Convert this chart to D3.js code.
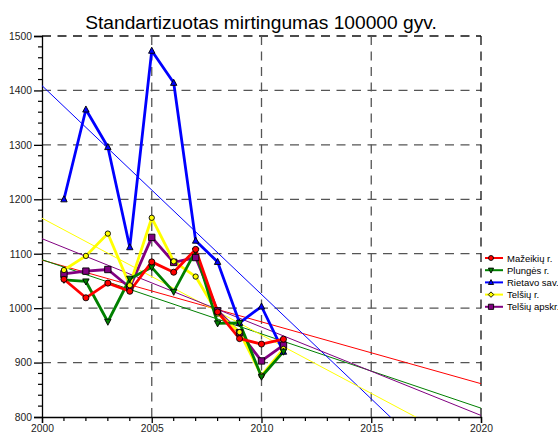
<!DOCTYPE html>
<html><head><meta charset="utf-8">
<script src="https://cdn.jsdelivr.net/npm/d3@7"></script>
<style>body{margin:0;background:#fff}svg{display:block;font-family:"Liberation Sans",Arial,sans-serif}</style>
</head><body><svg id="c" width="558" height="434"></svg>
<script>
const years = [2001,2002,2003,2004,2005,2006,2007,2008,2009,2010,2011];
const seriesNames = ["Mažeikių r.","Plungės r.","Rietavo sav.","Telšių r.","Telšių apskr."];
const mazeikiai = [1053,1019,1046,1031,1085,1066,1108,993,944,934,943];
const plunge    = [1052,1049,975,1054,1075,1030,1105,972,973,874,920];
const rietavas  = [1200,1365,1296,1112,1473,1414,1124,1085,973,1003,920];
const telsiai   = [1070,1096,1137,1042,1166,1086,1058,990,956,876,925];
const apskritis = [1063,1068,1071,1038,1130,1084,1093,995,955,903,932];
const seriesColors = ["#ff0000","#008000","#0000ff","#ffff00","#800080"];
const seriesMarkers = ["circle","triangleDown","triangle","diamond","square"];
const xTicks = [2000,2005,2010,2015,2020];
const yTicks = [800,900,1000,1100,1200,1300,1400,1500];
const title = "Standartizuotas mirtingumas 100000 gyv.";

const values = [mazeikiai, plunge, rietavas, telsiai, apskritis];
const svg = d3.select("#c");
const x = d3.scaleLinear().domain([2000,2020]).range([42,481]);
const y = d3.scaleLinear().domain([800,1500]).range([417,36]);

svg.append("text").attr("x",261).attr("y",29).attr("text-anchor","middle")
  .attr("font-size",19.2).attr("fill","#000").text(title);

// grid
const g = svg.append("g");
yTicks.filter(t=>t>800).forEach(t=>{
  g.append("line").attr("x1",x(2000)).attr("x2",x(2020)).attr("y1",y(t)).attr("y2",y(t))
   .attr("stroke", t===1500?"#111":"#555").attr("stroke-width",1.3).attr("stroke-dasharray","9,6.5");
});
xTicks.filter(t=>t>2000).forEach(t=>{
  g.append("line").attr("x1",x(t)).attr("x2",x(t)).attr("y1",y(800)).attr("y2",y(1500))
   .attr("stroke", t===2020?"#111":"#555").attr("stroke-width",1.3).attr("stroke-dasharray","9,6.5");
});

// axes
const yAxis = d3.axisLeft(y).tickValues(yTicks).tickSize(8).tickPadding(2).tickFormat(d3.format("d"));
const ya = svg.append("g").attr("transform",`translate(${x(2000)},0)`).call(yAxis);
const xAxis = d3.axisBottom(x).tickValues(xTicks).tickSize(6).tickPadding(1.5).tickFormat(d3.format("d"));
const xa = svg.append("g").attr("transform",`translate(0,${y(800)})`).call(xAxis);
[ya,xa].forEach(a=>{a.select(".domain").attr("stroke","#000").attr("stroke-width",1.3);
  a.selectAll(".tick line").attr("stroke","#000").attr("stroke-width",1.3);
  a.selectAll("text").attr("font-size",10.3).attr("fill","#222").attr("font-family","Liberation Sans, Arial, sans-serif");});
// minor ticks
const yMinor = d3.range(800,1501,20).filter(v=>!yTicks.includes(v));
ya.selectAll(".minor").data(yMinor).enter().append("line")
  .attr("x1",-4).attr("x2",0).attr("y1",d=>y(d)).attr("y2",d=>y(d)).attr("stroke","#000").attr("stroke-width",1.2);
const xMinor = d3.range(2000,2021,1).filter(v=>!xTicks.includes(v));
xa.selectAll(".minor").data(xMinor).enter().append("line")
  .attr("y1",0).attr("y2",4).attr("x1",d=>x(d)).attr("x2",d=>x(d)).attr("stroke","#000").attr("stroke-width",1.2);

// trend lines (least squares)
const clip = svg.append("clipPath").attr("id","pc").append("rect")
  .attr("x",x(2000)).attr("y",y(1500)).attr("width",x(2020)-x(2000)).attr("height",y(800)-y(1500));
const tg = svg.append("g").attr("clip-path","url(#pc)");
values.forEach((vals,i)=>{
  const mx = d3.mean(years), my = d3.mean(vals);
  const b = d3.sum(years,(yr,k)=>(yr-mx)*(vals[k]-my))/d3.sum(years,yr=>(yr-mx)**2);
  const f = t=>my+b*(t-mx);
  tg.append("line").attr("x1",x(2000)).attr("y1",y(f(2000))).attr("x2",x(2020)).attr("y2",y(f(2020)))
    .attr("stroke",seriesColors[i]).attr("stroke-width",1);
});

function marker(sel, type, cx, cy, color, s){
  s = s||3.4;
  if(type==="circle") sel.append("circle").attr("cx",cx).attr("cy",cy).attr("r",s*0.95).attr("fill",color).attr("stroke","#000").attr("stroke-width",0.9);
  else {
    let p;
    if(type==="triangle") p=[[0,-s*1.1],[s,s*0.8],[-s,s*0.8]];
    else if(type==="triangleDown") p=[[0,s*1.1],[s,-s*0.8],[-s,-s*0.8]];
    else if(type==="square") p=[[-s,-s],[s,-s],[s,s],[-s,s]];
    else p=[[0,-s*1.05],[s*1.05,0],[0,s*1.05],[-s*1.05,0]];
    sel.append("polygon").attr("points",p.map(q=>[cx+q[0],cy+q[1]].join(",")).join(" "))
      .attr("fill",color).attr("stroke","#000").attr("stroke-width",0.9);
  }
}

// series lines, drawn so Mažeikių ends on top
const order = [4,3,2,1,0];
const line = d3.line().x((d,k)=>x(years[k])).y(d=>y(d));
order.forEach(i=>{
  svg.append("path").attr("d",line(values[i])).attr("fill","none").attr("stroke",seriesColors[i])
    .attr("stroke-width",2.8).attr("stroke-linejoin","round");
});
order.forEach(i=>{
  const mg = svg.append("g");
  values[i].forEach((v,k)=>{
    const mt = seriesMarkers[i]==="diamond" ? "circle" : seriesMarkers[i];
    marker(mg, mt, x(years[k]), y(v), seriesColors[i], seriesMarkers[i]==="diamond"?2.8:3.2);
  });
});

// legend
const lg = svg.append("g").attr("transform","translate(485,258)");
seriesNames.forEach((n,i)=>{
  const yy = i*12.2;
  lg.append("line").attr("x1",0).attr("x2",18).attr("y1",yy).attr("y2",yy).attr("stroke",seriesColors[i]).attr("stroke-width",2);
  marker(lg, seriesMarkers[i], 6, yy, seriesColors[i], 2.6);
  lg.append("text").attr("x",22).attr("y",yy+3.5).attr("font-size",9.5).attr("fill","#000").text(n);
});
</script></body></html>
